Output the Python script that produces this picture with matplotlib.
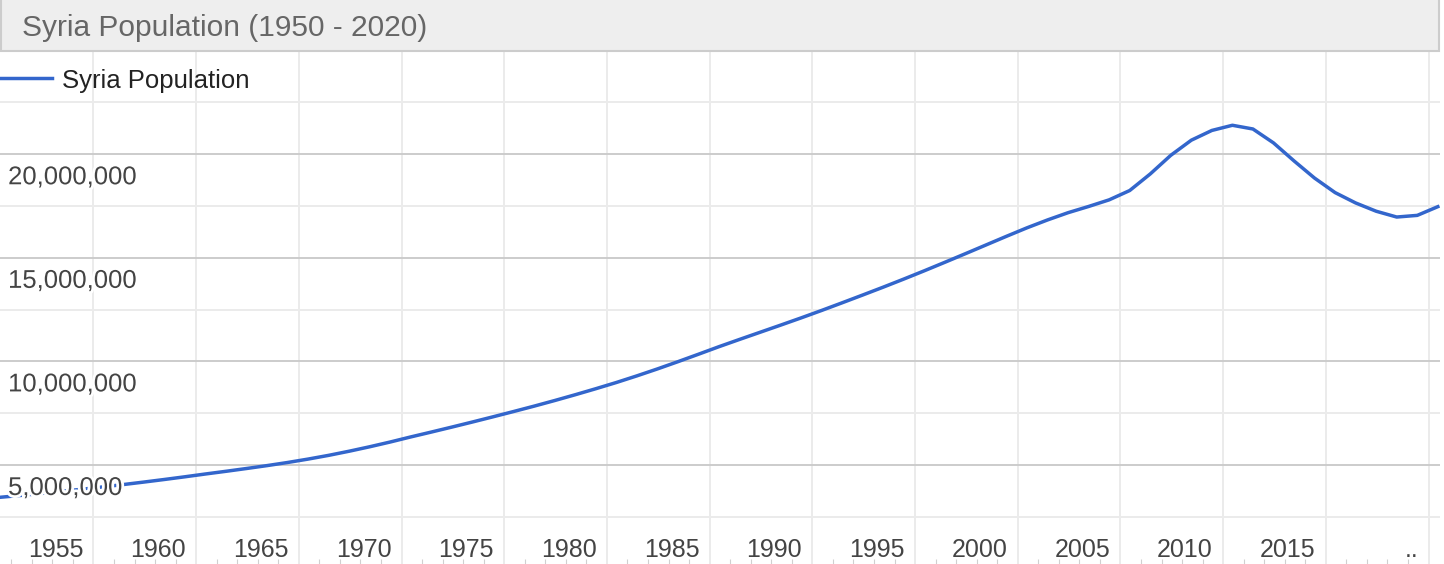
import matplotlib
matplotlib.use("Agg")
import matplotlib.pyplot as plt
import matplotlib.patheffects as pe
from matplotlib.patches import Rectangle
from matplotlib.lines import Line2D

plt.rcParams['font.family'] = ['Liberation Sans', 'DejaVu Sans']

# Syria population in millions (yearly)
years = list(range(1950, 2021))
population = [
    3.44, 3.53, 3.625, 3.725, 3.83, 3.94, 4.055, 4.175, 4.30, 4.43,
    4.565, 4.695, 4.83, 4.97, 5.12, 5.285, 5.465, 5.665, 5.88, 6.11,
    6.355, 6.59, 6.83, 7.075, 7.325, 7.58, 7.84, 8.11, 8.39, 8.68,
    8.98, 9.30, 9.635, 9.985, 10.345, 10.71, 11.06, 11.405, 11.75, 12.10,
    12.46, 12.83, 13.205, 13.585, 13.975, 14.375, 14.785, 15.20, 15.62, 16.04,
    16.45, 16.83, 17.18, 17.48, 17.80, 18.25, 19.05, 19.95, 20.68, 21.15,
    21.40, 21.22, 20.55, 19.68, 18.85, 18.15, 17.65, 17.25, 16.97, 17.05,
    17.47,
]
population = [p * 1e6 for p in population]

y_labels = [5_000_000, 10_000_000, 15_000_000, 20_000_000]
y_minor = [2_500_000, 7_500_000, 12_500_000, 17_500_000, 22_500_000]
x_labels = ['1955', '1960', '1965', '1970', '1975', '1980', '1985',
            '1990', '1995', '2000', '2005', '2010', '2015', '..']
title = 'Syria Population (1950 - 2020)'
series_name = 'Syria Population'

W, H = 1444, 564
blue = '#3366cc'

fig = plt.figure(figsize=(W / 100, H / 100), dpi=100)
ax = fig.add_axes([0, 0, 1440 / W, (H - 50.7) / H])

ax.plot(years, population, color=blue, lw=2.5, zorder=3,
        solid_joinstyle='round')

px_per_year = 20.54
ax.set_xlim(1950, 1950 + 1440 / px_per_year)
ax.set_ylim(220_000, 25_000_000)

# grid
grid_x = [1954.55 + 5 * i for i in range(len(x_labels))]
tick_x = [1950.55 + i for i in range(70)]
ax.set_xticks(grid_x)
ax.set_xticks(tick_x, minor=True)
ax.set_yticks(y_labels)
ax.set_yticks(y_minor, minor=True)
ax.set_axisbelow(True)
ax.grid(axis='x', which='major', color='#ebebeb', lw=1.4)
ax.grid(axis='y', which='minor', color='#ebebeb', lw=1.4)
ax.grid(axis='y', which='major', color='#cccccc', lw=1.4)
ax.tick_params(axis='both', which='major', length=0, labelbottom=False, labelleft=False)
ax.tick_params(axis='y', which='minor', length=0)
ax.tick_params(axis='x', which='minor', direction='in', length=3.5, width=0.8, color='#d0d0d0')
for s in ax.spines.values():
    s.set_visible(False)

halo = [pe.withStroke(linewidth=4, foreground='white')]
for v in y_labels:
    ax.annotate(f"{v:,}", xy=(0, v), xycoords=ax.get_yaxis_transform(),
                xytext=(5.8, -21.6), textcoords='offset points',
                ha='left', va='baseline', fontsize=18.5, color='#444444',
                path_effects=halo, zorder=5)

for g, lab in zip(grid_x, x_labels):
    ax.annotate(lab, xy=(g, 0), xycoords=ax.get_xaxis_transform(),
                xytext=(-7.4, 5), textcoords='offset points',
                ha='right', va='baseline', fontsize=18, color='#444444', zorder=5)

# title bar
fig.add_artist(Rectangle((1 / W, (H - 51) / H), 1438 / W, 60 / H,
                         transform=fig.transFigure, facecolor='#eeeeee',
                         edgecolor='#cccccc', lw=1.5, zorder=10))
fig.text(22 / W, (H - 36) / H, title, fontsize=21.5, color='#666666',
         va='baseline', ha='left', zorder=11)

# legend
fig.add_artist(Line2D([0, 52 / W], [(H - 78) / H] * 2, transform=fig.transFigure,
                      color=blue, lw=2.5, zorder=11))
fig.text(62 / W, (H - 88) / H, series_name, fontsize=18.5, color='#222222',
         va='baseline', ha='left', zorder=11)

fig.savefig('out.png', dpi=100)
